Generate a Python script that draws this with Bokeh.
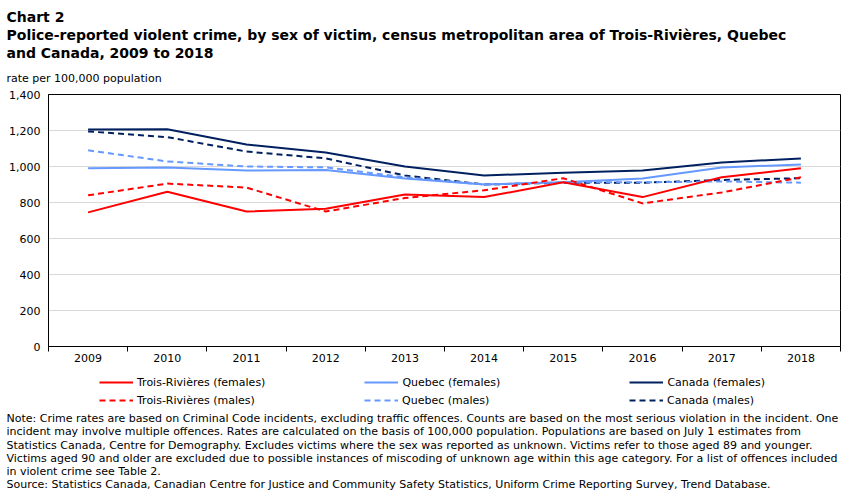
from bokeh.plotting import figure
from bokeh.layouts import column
from bokeh.models import Range1d, FixedTicker, Legend, LegendItem, Title
from bokeh.embed import file_html
from bokeh.resources import INLINE

years = ["2009", "2010", "2011", "2012", "2013", "2014", "2015", "2016", "2017", "2018"]
tr_females = [745, 860, 750, 765, 845, 830, 912, 830, 940, 990]
tr_males = [840, 905, 883, 750, 825, 868, 935, 795, 856, 940]
qc_females = [990, 995, 978, 980, 933, 900, 912, 933, 995, 1011]
qc_males = [1090, 1028, 1000, 995, 940, 900, 912, 912, 917, 910]
ca_females = [1205, 1207, 1122, 1078, 1000, 950, 965, 978, 1022, 1045]
ca_males = [1195, 1163, 1083, 1045, 950, 900, 910, 910, 925, 935]
y_ticks = [0, 200, 400, 600, 800, 1000, 1200, 1400]

FONT = "DejaVu Sans"
RED = "#FF0000"
LBLUE = "#6699FF"
NAVY = "#002060"
W = 851
H_MAIN, H_LEG, H_NOTE = 368, 42, 83

series = [
    ("Trois-Rivières (females)", tr_females, RED, "solid"),
    ("Trois-Rivières (males)", tr_males, RED, "6 4"),
    ("Quebec (females)", qc_females, LBLUE, "solid"),
    ("Quebec (males)", qc_males, LBLUE, "6 4"),
    ("Canada (females)", ca_females, NAVY, "solid"),
    ("Canada (males)", ca_males, NAVY, "6 4"),
]


def title(fig, text, size="11px", style="normal", standoff=0, where="above", **kw):
    fig.add_layout(Title(text=text, align="left", offset=-42, standoff=standoff,
                         text_font=FONT, text_font_size=size, text_font_style=style,
                         text_color="black", **kw), where)


# ---------------- main chart
xs = [i + 0.5 for i in range(len(years))]
p = figure(width=W, height=H_MAIN, output_backend="svg", toolbar_location=None,
           x_range=Range1d(0, len(years)), y_range=Range1d(0, 1400),
           min_border_left=48, min_border_right=11, min_border_top=94, min_border_bottom=22)
p.background_fill_color = "white"
p.border_fill_color = "white"
p.outline_line_color = "black"
p.xgrid.grid_line_color = None
p.ygrid.grid_line_color = "#d9d9d9"

p.xaxis.ticker = FixedTicker(ticks=xs, minor_ticks=list(range(len(years) + 1)))
p.xaxis.major_label_overrides = {x: y for x, y in zip(xs, years)}
p.xaxis.major_tick_line_color = None
p.xaxis.major_tick_out = 0
p.xaxis.major_tick_in = 0
p.xaxis.minor_tick_line_color = "black"
p.xaxis.minor_tick_out = 5
p.xaxis.minor_tick_in = 0
p.xaxis.axis_line_color = "black"
p.xaxis.major_label_text_font = FONT
p.xaxis.major_label_text_font_size = "11px"
p.xaxis.major_label_text_color = "black"
p.xaxis.major_label_standoff = 2

p.yaxis.ticker = FixedTicker(ticks=y_ticks)
p.yaxis.major_label_overrides = {v: f"{v:,}" for v in y_ticks}
p.yaxis.major_tick_line_color = None
p.yaxis.major_tick_out = 0
p.yaxis.major_tick_in = 0
p.yaxis.minor_tick_line_color = None
p.yaxis.axis_line_color = "black"
p.yaxis.major_label_text_font = FONT
p.yaxis.major_label_text_font_size = "11px"
p.yaxis.major_label_text_color = "black"
p.yaxis.major_label_standoff = 8

for name, vals, col, dash in reversed(series):
    p.line(xs, vals, line_color=col, line_width=2, line_dash=dash)

# above: from the frame outwards
title(p, "rate per 100,000 population", standoff=19)
title(p, "and Canada, 2009 to 2018", "14px", "bold")
title(p, "Police-reported  violent crime, by sex of victim, census metropolitan area of Trois-Rivières, Quebec", "14px", "bold")
title(p, "Chart 2", "14px", "bold")

# ---------------- legend strip (proxy lines carry the series styles)
lg = figure(width=W, height=H_LEG, output_backend="svg", toolbar_location=None,
            x_range=Range1d(0, 1), y_range=Range1d(0, 1),
            x_axis_type=None, y_axis_type=None,
            min_border_left=48, min_border_right=11, min_border_top=0, min_border_bottom=0)
lg.outline_line_color = None
lg.grid.grid_line_color = None
lg.border_fill_color = "white"
rend = {}
for name, vals, col, dash in series:
    rend[name] = lg.line([-5, -4], [-5, -4], line_color=col, line_width=2, line_dash=dash)

for names, vy in ((["Trois-Rivières (females)", "Quebec (females)", "Canada (females)"], 21),
                  (["Trois-Rivières (males)", "Quebec (males)", "Canada (males)"], 3)):
    leg = Legend(items=[LegendItem(label=n, renderers=[rend[n]]) for n in names],
                 orientation="horizontal", location=(51, vy),
                 padding=0, margin=0, spacing=99,
                 glyph_width=34, glyph_height=14, label_height=14, label_width=128,
                 label_standoff=4, border_line_color=None, background_fill_alpha=0,
                 label_text_font=FONT, label_text_font_size="11px",
                 label_text_color="black")
    lg.add_layout(leg, "center")

# ---------------- notes
nt = figure(width=W, height=H_NOTE, output_backend="svg", toolbar_location=None,
            x_range=Range1d(0, 1), y_range=Range1d(0, 1),
            x_axis_type=None, y_axis_type=None,
            min_border_left=48, min_border_right=11, min_border_top=0, min_border_bottom=0)
nt.outline_line_color = None
nt.grid.grid_line_color = None
nt.border_fill_color = "white"
notes = [
    "Note: Crime rates are based on Criminal Code incidents, excluding traffic offences. Counts are based on the most serious violation in the incident. One",
    "incident may involve multiple offences. Rates are calculated on the basis of 100,000 population. Populations are based on July 1 estimates from",
    "Statistics Canada, Centre for Demography. Excludes victims where the sex was reported as unknown. Victims refer to those aged 89 and younger.",
    "Victims aged 90 and older are excluded due to possible instances of miscoding of unknown age within this age category. For a list of offences included",
    "in violent crime see Table 2.",
    "Source: Statistics Canada, Canadian Centre for Justice and Community Safety Statistics, Uniform Crime Reporting Survey, Trend Database.",
]
title(nt, "\n".join(notes), "11px", text_line_height=1.02)

layout = column(p, lg, nt, spacing=0)
open("out.html", "w").write(file_html(layout, INLINE))
